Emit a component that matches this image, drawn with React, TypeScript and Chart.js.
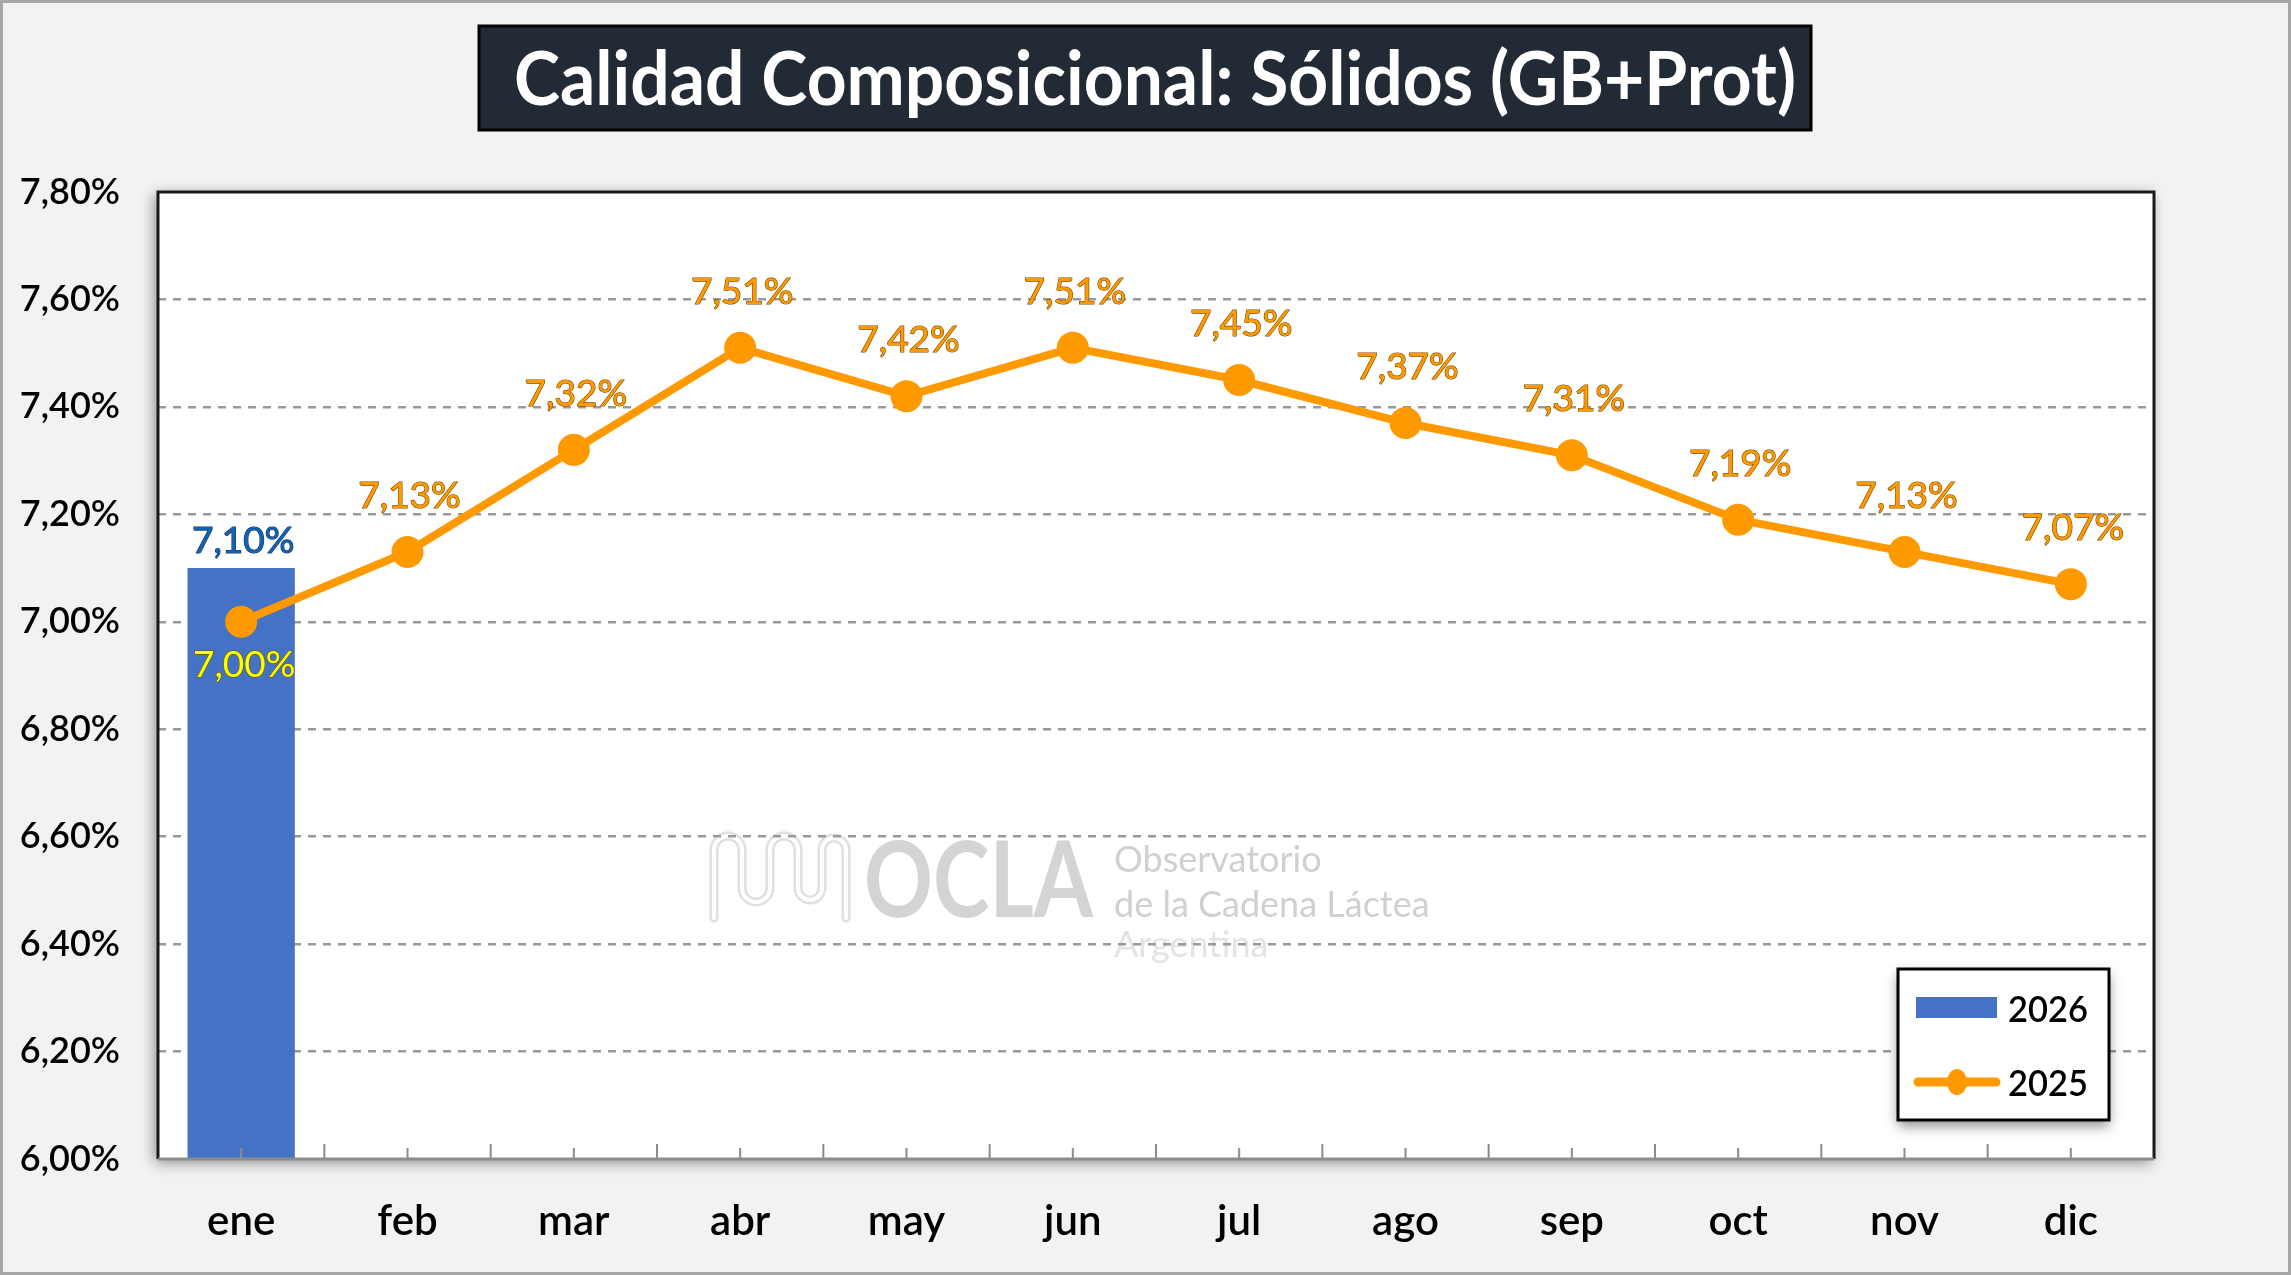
import { useEffect, useRef } from "react";
import { Chart, registerables } from "chart.js";

Chart.register(...registerables);

// datos
const meses = ["ene", "feb", "mar", "abr", "may", "jun", "jul", "ago", "sep", "oct", "nov", "dic"];
const solidos2026 = [7.1, null, null, null, null, null, null, null, null, null, null, null];
const solidos2025 = [7.0, 7.13, 7.32, 7.51, 7.42, 7.51, 7.45, 7.37, 7.31, 7.19, 7.13, 7.07];
const ticksY = [6.0, 6.2, 6.4, 6.6, 6.8, 7.0, 7.2, 7.4, 7.6, 7.8];

const TITULO = "Calidad Composicional: Sólidos (GB+Prot)";
const FONT = "Lato, 'Open Sans', sans-serif";
const AZUL = "#4472c4";
const NARANJA = "#ff9900";

const W = 2291;
const H = 1275;

const fmt = (v: number) => v.toFixed(2).replace(".", ",") + "%";

function textoContorno(ctx: CanvasRenderingContext2D, t: string, x: number, y: number, fill: string, stroke: string) {
  ctx.lineWidth = 1.2;
  ctx.strokeStyle = stroke;
  ctx.strokeText(t, x, y);
  ctx.fillStyle = fill;
  ctx.fillText(t, x, y);
}

const decoPlugin = {
  id: "deco",
  beforeDraw(chart: any) {
    const { ctx, chartArea: a, width, height } = chart;
    ctx.save();
    ctx.fillStyle = "#f2f2f2";
    ctx.fillRect(0, 0, width, height);
    ctx.strokeStyle = "#a6a6a6";
    ctx.lineWidth = 3;
    ctx.strokeRect(1.5, 1.5, width - 3, height - 3);

    // area de trazado con sombra
    ctx.save();
    ctx.shadowColor = "rgba(0,0,0,0.45)";
    ctx.shadowBlur = 14;
    ctx.shadowOffsetX = -3;
    ctx.shadowOffsetY = 3;
    ctx.fillStyle = "#ffffff";
    ctx.fillRect(a.left, a.top, a.width, a.height);
    ctx.restore();

    // titulo
    ctx.fillStyle = "#222a35";
    ctx.fillRect(479, 26, 1332, 104);
    ctx.strokeStyle = "#000";
    ctx.lineWidth = 3;
    ctx.strokeRect(479, 26, 1332, 104);
    ctx.fillStyle = "#ffffff";
    ctx.font = `bold 74px ${FONT}`;
    ctx.textAlign = "center";
    ctx.textBaseline = "middle";
    ctx.fillText(TITULO, 1155, 81, 1282);

    // marca de agua OCLA
    ctx.lineJoin = "round";
    ctx.lineCap = "round";
    const onda = new Path2D();
    onda.moveTo(714, 918);
    onda.lineTo(714, 850);
    onda.arc(728, 850, 14, Math.PI, 0);
    onda.lineTo(742, 888);
    onda.arc(756, 888, 14, Math.PI, 0, true);
    onda.lineTo(770, 850);
    onda.arc(784, 850, 14, Math.PI, 0);
    onda.lineTo(798, 888);
    onda.arc(810, 888, 12, Math.PI, 0, true);
    onda.lineTo(822, 850);
    onda.arc(834, 850, 12, Math.PI, 0);
    onda.lineTo(846, 918);
    ctx.strokeStyle = "#e0e0e0";
    ctx.lineWidth = 9;
    ctx.stroke(onda);
    ctx.strokeStyle = "#ffffff";
    ctx.lineWidth = 4;
    ctx.stroke(onda);

    ctx.textAlign = "left";
    ctx.textBaseline = "alphabetic";
    ctx.fillStyle = "#d4d4d4";
    ctx.font = `bold 106px ${FONT}`;
    ctx.fillText("OCLA", 864, 917, 229);
    ctx.font = `36px ${FONT}`;
    ctx.fillStyle = "#d0d0d0";
    ctx.fillText("Observatorio", 1114, 872, 211);
    ctx.fillText("de la Cadena Láctea", 1114, 917, 332);
    ctx.fillStyle = "#e4e4e4";
    ctx.fillText("Argentina", 1114, 957, 158);
    ctx.restore();
  },
  afterDraw(chart: any) {
    const { ctx, chartArea: a, scales } = chart;
    const x = scales.x;
    ctx.save();

    // bordes
    ctx.lineWidth = 3;
    ctx.strokeStyle = "#1a1a1a";
    ctx.beginPath();
    ctx.moveTo(a.left, a.bottom);
    ctx.lineTo(a.left, a.top);
    ctx.lineTo(a.right, a.top);
    ctx.lineTo(a.right, a.bottom);
    ctx.stroke();
    ctx.strokeStyle = "#8c8c8c";
    ctx.beginPath();
    ctx.moveTo(a.left, a.bottom);
    ctx.lineTo(a.right, a.bottom);
    ctx.stroke();

    // marcas del eje x
    const cw = a.width / meses.length;
    ctx.lineWidth = 2;
    ctx.strokeStyle = "#8c8c8c";
    ctx.beginPath();
    for (let i = 1; i < meses.length; i++) {
      const px = a.left + i * cw;
      ctx.moveTo(px, a.bottom);
      ctx.lineTo(px, a.bottom - 15);
    }
    meses.forEach((_, i) => {
      const px = x.getPixelForValue(i);
      ctx.moveTo(px, a.bottom);
      ctx.lineTo(px, a.bottom - 11);
    });
    ctx.stroke();

    // etiquetas de datos
    ctx.textAlign = "center";
    ctx.textBaseline = "middle";
    ctx.font = `37px ${FONT}`;
    const barras = chart.getDatasetMeta(0);
    barras.data.forEach((el: any, i: number) => {
      const v = solidos2026[i];
      if (v == null) return;
      textoContorno(ctx, fmt(v), el.x + 2, el.y - 27, "#1262b3", "#1f3864");
    });
    const linea = chart.getDatasetMeta(1);
    linea.data.forEach((pt: any, i: number) => {
      const v = solidos2025[i];
      if (i === 0) textoContorno(ctx, fmt(v), pt.x + 3, pt.y + 43, "#ffff00", "#6b5a00");
      else textoContorno(ctx, fmt(v), pt.x + 2, pt.y - 56, NARANJA, "#7a4b00");
    });

    // leyenda
    const lw = 211;
    const lh = 151;
    const lx = a.right - 45 - lw;
    const ly = a.bottom - 39 - lh;
    ctx.save();
    ctx.shadowColor = "rgba(0,0,0,0.45)";
    ctx.shadowBlur = 12;
    ctx.shadowOffsetY = 6;
    ctx.fillStyle = "#ffffff";
    ctx.fillRect(lx, ly, lw, lh);
    ctx.restore();
    ctx.strokeStyle = "#000";
    ctx.lineWidth = 3;
    ctx.strokeRect(lx, ly, lw, lh);

    const ds = chart.data.datasets;
    ctx.fillStyle = ds[0].backgroundColor;
    ctx.fillRect(lx + 18, ly + 28, 81, 21);
    ctx.strokeStyle = ds[1].borderColor;
    ctx.lineWidth = 9;
    ctx.lineCap = "round";
    ctx.beginPath();
    ctx.moveTo(lx + 20, ly + 113);
    ctx.lineTo(lx + 98, ly + 113);
    ctx.stroke();
    ctx.fillStyle = ds[1].borderColor;
    ctx.beginPath();
    ctx.ellipse(lx + 59, ly + 113, 10, 13, 0, 0, Math.PI * 2);
    ctx.fill();

    ctx.fillStyle = "#000";
    ctx.textAlign = "left";
    ctx.font = `600 37px ${FONT}`;
    ctx.fillText(ds[0].label, lx + 110, ly + 41, 80);
    ctx.fillText(ds[1].label, lx + 110, ly + 115, 80);
    ctx.restore();
  },
};

export default function App() {
  const canvasRef = useRef<HTMLCanvasElement | null>(null);
  const chartRef = useRef<Chart<any> | null>(null);

  useEffect(() => {
    if (!canvasRef.current) return;
    if (chartRef.current) chartRef.current.destroy();

    chartRef.current = new Chart(canvasRef.current, {
      type: "bar",
      data: {
        labels: meses,
        datasets: [
          {
            type: "bar",
            label: "2026",
            data: solidos2026,
            backgroundColor: AZUL,
            borderWidth: 0,
            categoryPercentage: 1,
            barPercentage: 0.645,
            order: 1,
          },
          {
            type: "line",
            label: "2025",
            data: solidos2025,
            borderColor: NARANJA,
            backgroundColor: NARANJA,
            borderWidth: 8,
            pointRadius: 16,
            pointBorderWidth: 0,
            pointBackgroundColor: NARANJA,
            tension: 0,
            order: 0,
          },
        ],
      },
      options: {
        responsive: false,
        animation: false,
        devicePixelRatio: 1,
        layout: { padding: { left: 0, right: W - 2154, top: 192, bottom: 0 } },
        plugins: {
          legend: { display: false },
          tooltip: { enabled: false },
          title: { display: false },
        },
        scales: {
          x: {
            grid: { display: false, drawTicks: false },
            border: { display: false },
            ticks: {
              color: "#000",
              padding: 37,
              font: { family: FONT, size: 42, weight: "600" },
            },
            afterFit: (s: any) => {
              s.height = H - 1159;
            },
          },
          y: {
            min: ticksY[0],
            max: ticksY[ticksY.length - 1],
            afterBuildTicks: (s: any) => {
              s.ticks = ticksY.map((v) => ({ value: v }));
            },
            grid: {
              drawTicks: false,
              lineWidth: 2.5,
              color: (c: any) =>
                c.tick && (c.tick.value === ticksY[0] || c.tick.value === ticksY[ticksY.length - 1])
                  ? "rgba(0,0,0,0)"
                  : "#999999",
            },
            border: { display: false, dash: [8, 7] },
            ticks: {
              color: "#000",
              padding: 38,
              font: { family: FONT, size: 36, weight: "600" },
              callback: (v: any) => fmt(Number(v)),
            },
            afterFit: (s: any) => {
              s.width = 158;
            },
          },
        },
      },
      plugins: [decoPlugin],
    });

    return () => {
      if (chartRef.current) {
        chartRef.current.destroy();
        chartRef.current = null;
      }
    };
  }, []);

  return (
    <div style={{ position: "fixed", left: 0, top: 0, width: W, height: H }}>
      <canvas ref={canvasRef} width={W} height={H} style={{ width: W, height: H, display: "block" }} />
    </div>
  );
}
